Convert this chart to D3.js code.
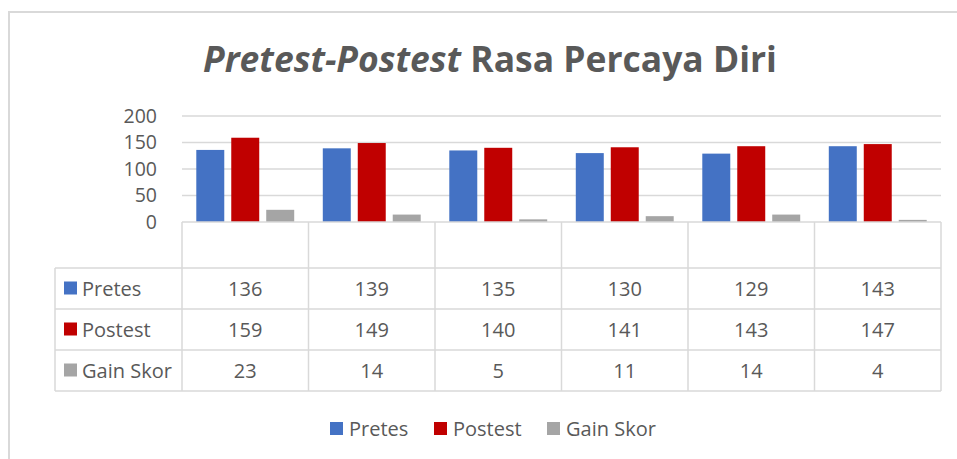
<!DOCTYPE html>
<html>
<head>
<meta charset="utf-8">
<script src="https://cdn.jsdelivr.net/npm/d3@7"></script>
<style>
  body { margin: 0; background: #fff; }
  svg { display: block; font-family: "Open Sans", "Noto Sans", sans-serif; }
</style>
</head>
<body>
<svg id="chart" width="957" height="459"></svg>
<script>
// data
const categories = ["", "", "", "", "", ""];
const series = ["Pretes", "Postest", "Gain Skor"];
const pretes = [136, 139, 135, 130, 129, 143];
const postest = [159, 149, 140, 141, 143, 147];
const gainSkor = [23, 14, 5, 11, 14, 4];
const yTicks = [0, 50, 100, 150, 200];
const colors = ["#4472C4", "#C00000", "#A5A5A5"];

const values = [pretes, postest, gainSkor];
const textColor = "#595959";
const lineColor = "#d9d9d9";

const svg = d3.select("#chart");

// outer frame (only top and left edges visible)
svg.append("path")
  .attr("d", "M 9 459 L 9 12 L 957 12")
  .attr("fill", "none")
  .attr("stroke", lineColor)
  .attr("stroke-width", 2);

// title
const title = svg.append("text")
  .attr("x", 490)
  .attr("y", 72)
  .attr("text-anchor", "middle")
  .attr("fill", textColor)
  .attr("font-weight", "bold")
  .attr("font-size", 32);
title.append("tspan").attr("font-style", "italic").text("Pretest-Postest");
title.append("tspan").text(" Rasa Percaya Diri");
// fit title width to the reference
const tw = title.node().getComputedTextLength();
title.attr("font-size", 32 * 574 / tw);

// scales
const x0 = d3.scaleBand().domain(d3.range(categories.length)).range([182, 941]).padding(0);
const bw = x0.bandwidth();
const x1 = d3.scaleBand().domain(d3.range(series.length))
  .range([bw * 0.113, bw * 0.887]).paddingInner(0.2);
const y = d3.scaleLinear().domain([0, 200]).range([222, 116]);

// gridlines
svg.append("g")
  .selectAll("line")
  .data(yTicks.filter((d) => d > 0))
  .enter()
  .append("line")
  .attr("x1", 182)
  .attr("x2", 941)
  .attr("y1", (d) => y(d))
  .attr("y2", (d) => y(d))
  .attr("stroke", lineColor)
  .attr("stroke-width", 1.3);

// y axis labels
const yAxis = svg.append("g")
  .attr("transform", "translate(157,0)")
  .call(d3.axisLeft(y).tickValues(yTicks).tickSize(0).tickPadding(0));
yAxis.select(".domain").remove();
yAxis.selectAll("text")
  .attr("fill", textColor)
  .attr("font-size", 19.5)
  .attr("font-family", "'Open Sans', sans-serif");

// bars
const groups = svg.append("g")
  .selectAll(".bar_group")
  .data(categories)
  .enter()
  .append("g")
  .attr("class", "bar_group")
  .attr("transform", (d, i) => `translate(${x0(i)},0)`);

groups.selectAll("rect")
  .data((d, i) => values.map((v, s) => ({ s: s, v: v[i] })))
  .enter()
  .append("rect")
  .attr("x", (d) => x1(d.s))
  .attr("width", x1.bandwidth())
  .attr("y", (d) => y(d.v))
  .attr("height", (d) => y(0) - y(d.v))
  .attr("fill", (d) => colors[d.s]);

// data table
const rowTop = 268;
const rowH = 41;
const tableLeft = 55;
const table = svg.append("g").attr("stroke", lineColor).attr("stroke-width", 1.5);

// horizontal lines
table.append("line").attr("x1", 182).attr("x2", 941).attr("y1", y(0)).attr("y2", y(0));
d3.range(series.length + 1).forEach((r) => {
  table.append("line")
    .attr("x1", tableLeft).attr("x2", 941)
    .attr("y1", rowTop + r * rowH).attr("y2", rowTop + r * rowH);
});
// vertical lines
table.append("line")
  .attr("x1", tableLeft).attr("x2", tableLeft)
  .attr("y1", rowTop).attr("y2", rowTop + series.length * rowH);
d3.range(categories.length + 1).forEach((c) => {
  const xx = c < categories.length ? x0(c) : 941;
  table.append("line")
    .attr("x1", xx).attr("x2", xx)
    .attr("y1", y(0)).attr("y2", rowTop + series.length * rowH);
});

// category header (blank in the reference)
svg.append("g")
  .selectAll("text")
  .data(categories)
  .enter()
  .append("text")
  .attr("x", (d, i) => x0(i) + bw / 2)
  .attr("y", 250)
  .attr("text-anchor", "middle")
  .attr("fill", textColor)
  .attr("font-size", 20)
  .text((d) => d);

// row labels with keys
series.forEach((name, s) => {
  const cy = rowTop + s * rowH + rowH / 2;
  svg.append("rect")
    .attr("x", 64).attr("y", cy - 7)
    .attr("width", 13).attr("height", 13)
    .attr("fill", colors[s]);
  svg.append("text")
    .attr("x", 82).attr("y", cy + 7)
    .attr("fill", textColor)
    .attr("font-size", 20)
    .text(name);
  svg.append("g")
    .selectAll("text")
    .data(values[s])
    .enter()
    .append("text")
    .attr("x", (d, i) => x0(i) + bw / 2)
    .attr("y", cy + 7.5)
    .attr("text-anchor", "middle")
    .attr("fill", textColor)
    .attr("font-size", 20)
    .text((d) => d);
});

// legend
const legendX = [330, 434, 547];
series.forEach((name, s) => {
  svg.append("rect")
    .attr("x", legendX[s]).attr("y", 422)
    .attr("width", 13).attr("height", 13)
    .attr("fill", colors[s]);
  svg.append("text")
    .attr("x", legendX[s] + 19).attr("y", 436)
    .attr("fill", textColor)
    .attr("font-size", 20)
    .text(name);
});
</script>
</body>
</html>
